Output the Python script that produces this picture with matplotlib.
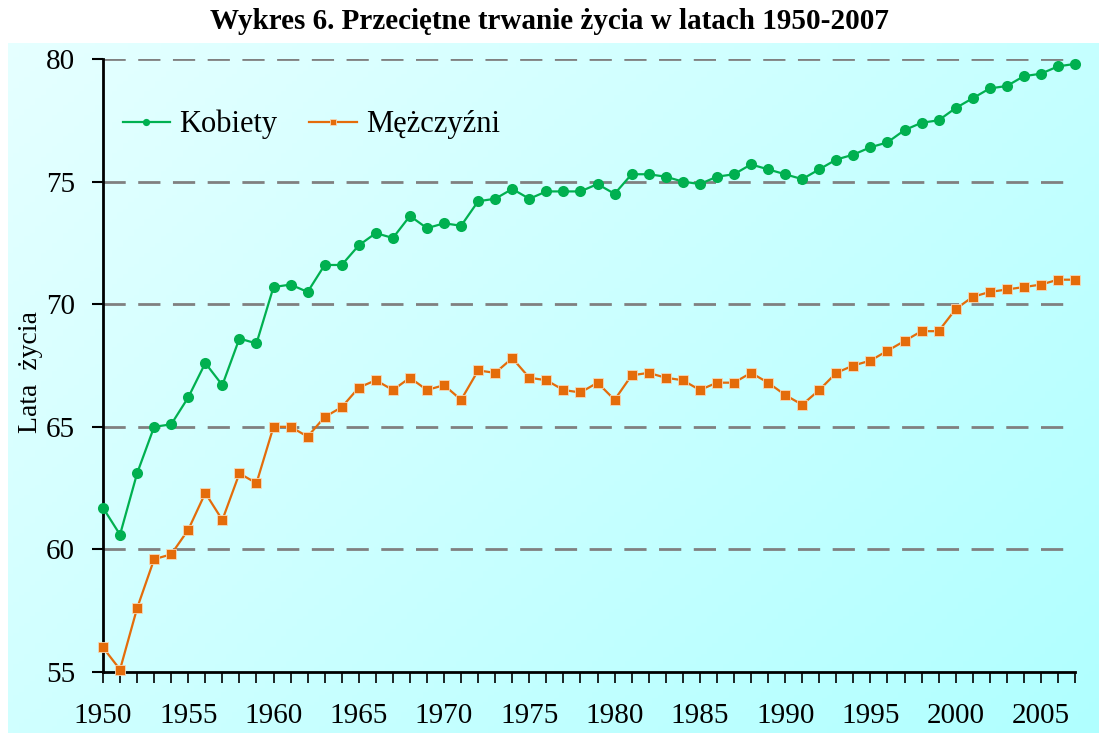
import numpy as np
import matplotlib.pyplot as plt
from matplotlib.ticker import MultipleLocator

years = list(range(1950, 2008))

kobiety = [61.7, 60.6, 63.1, 65.0, 65.1, 66.2, 67.6, 66.7, 68.6, 68.4,
           70.7, 70.8, 70.5, 71.6, 71.6, 72.4, 72.9, 72.7, 73.6, 73.1,
           73.3, 73.2, 74.2, 74.3, 74.7, 74.3, 74.6, 74.6, 74.6, 74.9,
           74.5, 75.3, 75.3, 75.2, 75.0, 74.9, 75.2, 75.3, 75.7, 75.5,
           75.3, 75.1, 75.5, 75.9, 76.1, 76.4, 76.6, 77.1, 77.4, 77.5,
           78.0, 78.4, 78.8, 78.9, 79.3, 79.4, 79.7, 79.8]

mezczyzni = [56.0, 55.1, 57.6, 59.6, 59.8, 60.8, 62.3, 61.2, 63.1, 62.7,
             65.0, 65.0, 64.6, 65.4, 65.8, 66.6, 66.9, 66.5, 67.0, 66.5,
             66.7, 66.1, 67.3, 67.2, 67.8, 67.0, 66.9, 66.5, 66.4, 66.8,
             66.1, 67.1, 67.2, 67.0, 66.9, 66.5, 66.8, 66.8, 67.2, 66.8,
             66.3, 65.9, 66.5, 67.2, 67.5, 67.7, 68.1, 68.5, 68.9, 68.9,
             69.8, 70.3, 70.5, 70.6, 70.7, 70.8, 71.0, 71.0]

plt.rcParams['font.family'] = ['Liberation Serif', 'DejaVu Serif']

fig = plt.figure(figsize=(10.99, 7.33), dpi=100)

# gradient background (white-ish top-left to cyan bottom-right)
bg = fig.add_axes([0.007, 0, 0.993, 0.941], zorder=-1)
gx, gy = np.meshgrid(np.linspace(0, 1, 200), np.linspace(0, 1, 200))
t = (gx * 0.6 + gy * 0.4)
c0 = np.array([0.90, 1.0, 1.0])
c1 = np.array([0.69, 1.0, 1.0])
img = c0[None, None, :] * (1 - t[..., None]) + c1[None, None, :] * t[..., None]
bg.imshow(img, aspect='auto', extent=[0, 1, 0, 1], origin='upper')
bg.axis('off')

ax = fig.add_axes([0.0937, 0.0832, 0.8845, 0.8363])
ax.patch.set_alpha(0)

green = '#00B050'
orange = '#E46C0A'

ax.plot(years, kobiety, color=green, lw=1.6, marker='o', markersize=8,
        markeredgewidth=0, label='Kobiety', clip_on=False, zorder=3)
ax.plot(years, mezczyzni, color=orange, lw=1.6, marker='s', markersize=7.6,
        markeredgecolor='#f5d8b8', markeredgewidth=0.6, label='Mężczyźni',
        clip_on=False, zorder=3)

ax.set_xlim(1950, 2007)
ax.set_ylim(55, 80)
ax.set_yticks([55, 60, 65, 70, 75, 80])
ax.xaxis.set_major_locator(MultipleLocator(5))
ax.xaxis.set_minor_locator(MultipleLocator(1))

for y in [60, 65, 70, 75, 80]:
    ax.axhline(y, color='#808080', lw=2, dashes=(8, 4.5), zorder=1)

for s in ['top', 'right']:
    ax.spines[s].set_visible(False)
for s in ['left', 'bottom']:
    ax.spines[s].set_linewidth(2)

ax.tick_params(axis='y', direction='out', length=8, width=1.5, labelsize=21, pad=12)
ax.tick_params(axis='x', which='both', direction='out', length=8, width=1.2,
               labelsize=21, pad=14)

ax.set_ylabel('Lata  życia', fontsize=20)
ax.yaxis.set_label_coords(-0.062, 0.49)

leg = ax.legend(loc='upper left', ncol=2, frameon=False, fontsize=22,
                bbox_to_anchor=(-0.008, 0.962), handlelength=1.55, columnspacing=1.05,
                markerscale=0.65, handletextpad=0.3)

fig.text(0.5, 0.97, 'Wykres 6. Przeciętne trwanie życia w latach 1950-2007',
         ha='center', va='center', fontsize=21, fontweight='bold')

fig.savefig('out.png', dpi=100)
